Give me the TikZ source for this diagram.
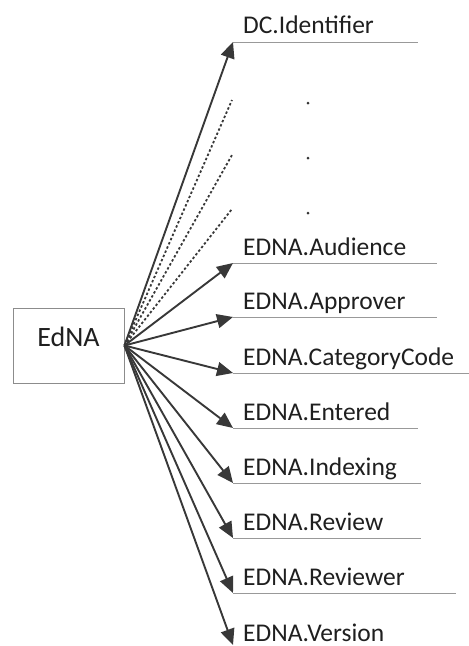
\documentclass[tikz,border=0pt]{standalone}
\usepackage{fontspec}
\setmainfont{Carlito}
\usetikzlibrary{arrows.meta}
\tikzset{
	fieldlabel/.style={anchor=base west, inner sep=0pt, font=\fontsize{25.5}{30}\selectfont, text=black!88},
	fieldline/.style={line width=0.9pt, color=black!40},
	linkarrow/.style={line width=1.9pt, color=black!78, -{Triangle[length=16pt,width=14pt]}},
	moredots/.style={line width=1.8pt, color=black!78, dash pattern=on 2.4pt off 2.2pt},
}

\begin{document}
\begin{tikzpicture}[x=1pt,y=-1pt]
			%%%%% START %%%%%
			\useasboundingbox (0,0) rectangle (469,646);
			
			\node[draw=black!45, line width=0.9pt, minimum width=111pt, minimum height=75pt, text depth=18pt, font=\fontsize{28}{33}\selectfont, text=black!88] (edna) at (68.5,345.5) {EdNA};
			
			% top field
			\coordinate (dcTip) at (233,42);
			\node[fieldlabel] (dcLabel) at (243,33) {DC.Identifier};
			\draw[fieldline] (dcTip) -- ++(185,0);
			\draw[linkarrow] (edna.east) -- (dcTip);
			
			% fields left out
			\coordinate (gapA) at (232,100);
			\coordinate (gapB) at (232,155);
			\coordinate (gapC) at (232,209);
			\draw[moredots] (edna.east) -- (gapA);
			\draw[moredots] (edna.east) -- (gapB);
			\draw[moredots] (edna.east) -- (gapC);
			\fill[black!80] (308,103) circle (1.5pt);
			\fill[black!80] (308,158) circle (1.5pt);
			\fill[black!80] (308,213) circle (1.5pt);
			
			% EDNA fields
			\coordinate (audTip) at (233,263);
			\node[fieldlabel] (audLabel) at (243,255) {EDNA.Audience};
			\draw[fieldline] (audTip) -- ++(204,0);
			\draw[linkarrow] (edna.east) -- (audTip);
			
			\coordinate (appTip) at (233,317);
			\node[fieldlabel] (appLabel) at (243,309) {EDNA.Approver};
			\draw[fieldline] (appTip) -- ++(204,0);
			\draw[linkarrow] (edna.east) -- (appTip);
			
			\coordinate (catTip) at (233,373);
			\node[fieldlabel] (catLabel) at (243,365) {EDNA.CategoryCode};
			\draw[fieldline] (catTip) -- ++(236,0);
			\draw[linkarrow] (edna.east) -- (catTip);
			
			\coordinate (entTip) at (233,428);
			\node[fieldlabel] (entLabel) at (243,420) {EDNA.Entered};
			\draw[fieldline] (entTip) -- ++(185,0);
			\draw[linkarrow] (edna.east) -- (entTip);
			
			\coordinate (idxTip) at (233,483);
			\node[fieldlabel] (idxLabel) at (243,475) {EDNA.Indexing};
			\draw[fieldline] (idxTip) -- ++(188,0);
			\draw[linkarrow] (edna.east) -- (idxTip);
			
			\coordinate (revTip) at (233,538);
			\node[fieldlabel] (revLabel) at (243,530) {EDNA.Review};
			\draw[fieldline] (revTip) -- ++(188,0);
			\draw[linkarrow] (edna.east) -- (revTip);
			
			\coordinate (rvrTip) at (233,593);
			\node[fieldlabel] (rvrLabel) at (243,585) {EDNA.Reviewer};
			\draw[fieldline] (rvrTip) -- ++(223,0);
			\draw[linkarrow] (edna.east) -- (rvrTip);
			
			\coordinate (verTip) at (233,645);
			\node[fieldlabel] (verLabel) at (243,641) {EDNA.Version};
			\draw[linkarrow] (edna.east) -- (verTip);
			
			%%%%% END %%%%%
\end{tikzpicture}
\end{document}
